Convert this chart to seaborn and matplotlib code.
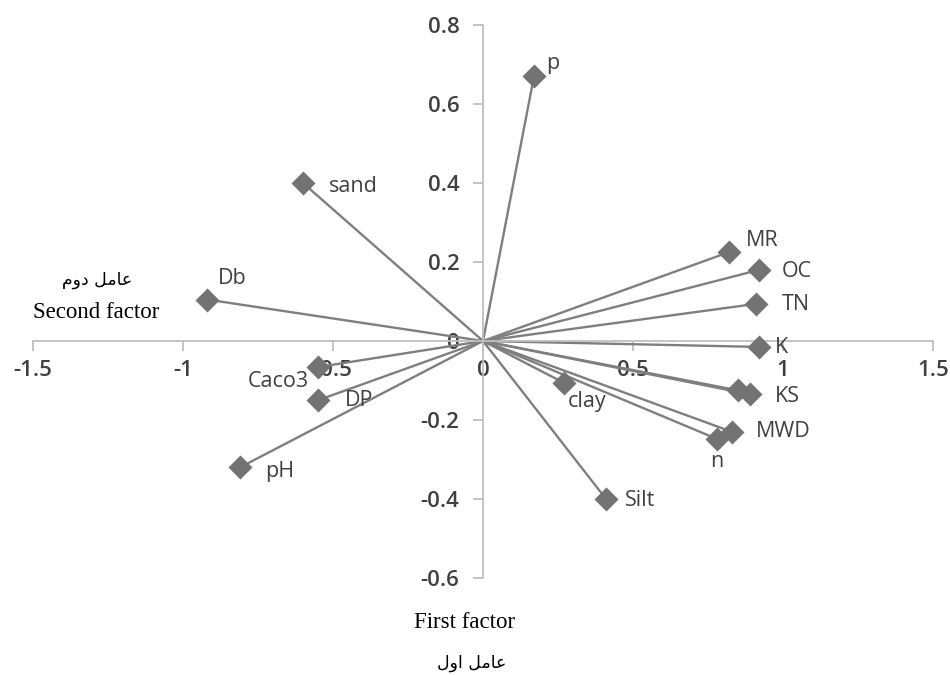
"""
Factor loading plot - first vs second factor
"""
import numpy as np
import pandas as pd
import matplotlib
matplotlib.use('Agg')
import matplotlib.pyplot as plt
import seaborn as sns

# loadings
names = ['p', 'sand', 'Db', 'MR', 'OC', 'TN', 'K', 'KS', '', 'MWD', 'n',
         'clay', 'Silt', 'Caco3', 'DP', 'pH']
factor1 = [0.17, -0.60, -0.92, 0.82, 0.92, 0.91, 0.92, 0.89, 0.85, 0.83, 0.78,
           0.27, 0.41, -0.55, -0.55, -0.81]
factor2 = [0.67, 0.40, 0.105, 0.225, 0.18, 0.094, -0.015, -0.135, -0.125, -0.23,
           -0.248, -0.106, -0.40, -0.066, -0.15, -0.32]

# label offsets in pixels (dx, dy, ha)
offsets = {
    'p': (12, 13, 'left'), 'sand': (26, -3, 'left'), 'Db': (11, 21, 'left'),
    'MR': (17, 12, 'left'), 'OC': (23, -2, 'left'), 'TN': (26, -1, 'left'),
    'K': (16, -1, 'left'), 'KS': (25, -2, 'left'), 'MWD': (24, 0, 'left'),
    'n': (0, -23, 'center'), 'clay': (4, -19, 'left'), 'Silt': (19, -2, 'left'),
    'Caco3': (-9, -14, 'right'), 'DP': (27, 0, 'left'), 'pH': (25, -4, 'left'),
}

xticks = [-1.5, -1, -0.5, 0, 0.5, 1, 1.5]
xlabels = ['-1.5', '-1', '-0.5', '0', '0.5', '1', '1.5']
yticks = [-0.6, -0.4, -0.2, 0, 0.2, 0.4, 0.6, 0.8]
ylabels = ['-0.6', '-0.4', '-0.2', '0', '0.2', '0.4', '0.6', '0.8']

df = pd.DataFrame({'name': names, 'f1': factor1, 'f2': factor2})

sns.set_style('white')
plt.rcParams['font.family'] = ['Open Sans', 'DejaVu Sans']

fig = plt.figure(figsize=(9.5, 6.75), dpi=100)
ax = fig.add_axes([33 / 950, 1 - 578 / 675, 900 / 950, 553 / 675])

line_col = '#7f7f7f'
for _, r in df.iterrows():
    ax.plot([0, r.f1], [0, r.f2], color=line_col, lw=1.7, zorder=2)
sns.scatterplot(data=df, x='f1', y='f2', marker='D', s=150, color='#737373',
                edgecolor='#737373', linewidth=0, ax=ax, zorder=3)

for _, r in df.iterrows():
    if not r['name']:
        continue
    dx, dy, ha = offsets[r['name']]
    ax.annotate(r['name'], (r.f1, r.f2), xytext=(dx, dy),
                textcoords='offset pixels', ha=ha, va='center',
                fontsize=15.5, color='#404040')

ax.set_xlim(-1.5, 1.5)
ax.set_ylim(-0.6, 0.8)
ax.set_xlabel('')
ax.set_ylabel('')

for s in ['top', 'right']:
    ax.spines[s].set_visible(False)
ax.spines['left'].set_position(('data', 0))
ax.spines['bottom'].set_position(('data', 0))
for s in ['left', 'bottom']:
    ax.spines[s].set_color('#bfbfbf')
    ax.spines[s].set_linewidth(1.3)

ax.set_xticks(xticks)
ax.set_xticklabels(xlabels)
ax.set_yticks(yticks)
ax.set_yticklabels(ylabels)
ax.tick_params(axis='both', direction='out', length=7, width=1.3,
               color='#bfbfbf', labelsize=16, labelcolor='#404040')
ax.tick_params(axis='x', pad=7)
ax.tick_params(axis='y', pad=10)
for lbl in ax.get_xticklabels() + ax.get_yticklabels():
    lbl.set_fontweight('semibold')
ax.xaxis.set_ticks_position('bottom')
ax.yaxis.set_ticks_position('left')

# axis titles (English + Persian, presentation forms in visual order)
second_fa = '\uFEE1\uFEED\uFEA9 \uFEDE\uFEE3\uFE8E\uFECB'
first_fa = '\uFEDD\uFEED\uFE8D \uFEDE\uFEE3\uFE8E\uFECB'
fig.text(97 / 950, 1 - 280 / 675, second_fa, ha='center', va='center',
         fontsize=12.5, family='DejaVu Sans', color='black')
fig.text(96 / 950, 1 - 313 / 675, 'Second factor', ha='center', va='center',
         fontsize=16.5, family='Liberation Serif', color='black')
fig.text(465 / 950, 1 - 622 / 675, 'First factor', ha='center', va='center',
         fontsize=16.5, family='Liberation Serif', color='black')
fig.text(472 / 950, 1 - 663 / 675, first_fa, ha='center', va='center',
         fontsize=12.5, family='DejaVu Sans', color='black')

plt.savefig('out.png', dpi=100)
